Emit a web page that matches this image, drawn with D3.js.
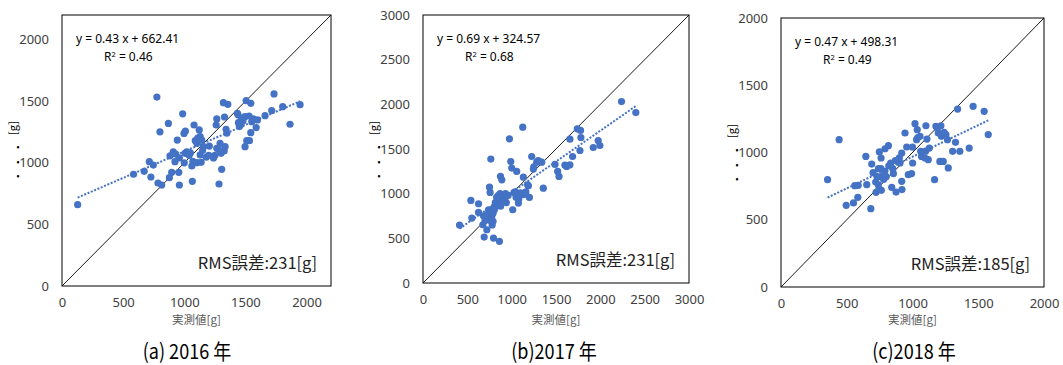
<!DOCTYPE html>
<html>
<head>
<meta charset="utf-8">
<script src="https://cdn.jsdelivr.net/npm/d3@7"></script>
<style>
  body { margin: 0; background: #fff; }
  svg { display: block; }
</style>
</head>
<body>
<div id="chart"></div>
<script>
// 2016 [実測値, 推定値]
const pts2016 = [
  [128,660],[776,1534],[585,907],[672,931],[714,1009],[747,982],[727,885],[785,836],[815,820],
  [801,1252],[870,1320],[883,1057],[897,923],[878,879],[910,1090],[924,1009],[955,923],[960,820],
  [943,1185],[987,1398],[998,1239],[1009,1258],[1006,1077],[1040,1061],[1062,974],[1070,1012],
  [1066,850],[1080,1307],[1103,1158],[1122,1267],[1130,1212],[1143,1185],[1130,1064],[1138,1004],
  [1103,1001],[1157,1131],[1179,1045],[1205,1136],[1239,1039],[1261,1307],[1266,1356],[1266,1118],
  [1284,828],[1293,1158],[1301,1077],[1306,947],[1320,1488],[1329,1372],[1342,1272],[1348,1240],
  [1356,1475],[1326,1096],[1334,1131],[1435,1402],[1443,1326],[1451,1294],[1470,1361],[1497,1375],
  [1506,1505],[1544,1483],[1497,1131],[1511,1180],[1533,1180],[1544,1245],[1552,1334],[1566,1356],
  [1588,1286],[1599,1348],[1661,1383],[1715,1424],[1734,1559],[1805,1456],[1865,1313],[1947,1472],
  [1020,1090],[1050,1080],[1090,1180],[1110,1200],[1150,1100],[1250,1060],[1280,1110],[1480,1340],
  [1460,1310],[1530,1380],[930,1070],[960,1040],[1000,1000],[1200,1060],[1440,1390]
];
const pts2017 = [
  [412,648],[551,727],[540,924],[626,887],[626,790],[682,753],[675,652],[690,514],[720,596],
  [739,820],[757,1014],[765,1387],[750,1073],[795,503],[862,466],[760,700],[775,740],[790,780],
  [805,820],[820,860],[815,900],[840,900],[860,880],[875,860],[780,650],[790,690],[760,800],
  [889,1155],[874,1193],[850,980],[870,1000],[900,950],[920,930],[940,900],[880,920],[830,960],
  [800,850],[700,700],[720,760],[930,1000],[960,980],[975,1614],[990,1360],[1001,1286],[1012,820],
  [1027,1014],[1057,1249],[1076,895],[1050,960],[1080,940],[1125,1744],[1132,1185],[1132,988],
  [1189,1088],[1200,958],[1226,1416],[1245,1275],[1282,1353],[1339,1353],[1300,1370],[1357,1062],
  [1489,1327],[1519,1249],[1534,1193],[1620,1305],[1657,1323],[1657,1610],[1687,1416],[1740,1726],
  [1777,1708],[1781,1629],[1770,1483],[1920,1517],[1976,1595],[1995,1539],[2239,2031],[2400,1908],
  [1040,1020],[1100,1010],[1160,1020],[1250,1300],[1600,1320],[1180,1100],[1060,970]
];
const pts2018 = [
  [354,798],[442,1095],[496,607],[551,625],[561,753],[587,756],[584,667],[645,971],[652,761],
  [683,582],[690,914],[723,704],[741,880],[748,1004],[761,959],[763,719],[791,1028],[817,1051],
  [834,922],[842,741],[855,843],[875,706],[905,922],[918,996],[918,786],[920,724],[943,1145],
  [956,1041],[968,835],[993,843],[1001,922],[1019,1214],[1031,1095],[1036,1170],[1057,1120],
  [1062,1009],[1069,971],[1095,959],[1102,1199],[1120,947],[1128,1033],[1168,798],[1178,1195],
  [1196,1145],[1208,934],[1216,1199],[1234,934],[1254,1133],[1266,1095],[1272,885],[1305,1009],
  [1327,1076],[1343,1323],[1360,1009],[1431,1033],[1461,1343],[1545,1306],[1576,1133],
  [720,780],[740,760],[760,820],[780,800],[700,850],[790,860],[800,820],[820,900],[850,880],
  [870,940],[890,940],[900,960],[760,880],[730,820],[745,730],[1110,1100],[1190,1180],[1220,1120],
  [1240,1150],[1040,1110],[1100,1010],[1000,1040]
];

// 近似直線 (傾き, 切片) と R²
const slopes = [0.43, 0.69, 0.47];
const intercepts = [662.41, 324.57, 498.31];
const r2s = ['0.46', '0.68', '0.49'];
const rmsErr = [231, 231, 185];

const axisMax = [2200, 3000, 2000];
const ticks2016 = [0, 500, 1000, 1500, 2000];
const ticks2017 = [0, 500, 1000, 1500, 2000, 2500, 3000];
const ticks2018 = [0, 500, 1000, 1500, 2000];
const captions = ['(a) 2016 年', '(b)2017 年', '(c)2018 年'];

// 各パネルの配置
const panels = [
  { left: 62,  top: 15, w: 269, h: 271, pts: pts2016, ticks: ticks2016, cap: 187 },
  { left: 423, top: 15, w: 266, h: 268, pts: pts2017, ticks: ticks2017, cap: 554 },
  { left: 781, top: 18, w: 263, h: 269, pts: pts2018, ticks: ticks2018, cap: 914 }
];

const font = '"Noto Sans CJK JP", "Noto Sans", sans-serif';
const latin = '"Noto Sans", "Open Sans", sans-serif';
const blue = '#4472C4';

const svg = d3.select('#chart')
  .append('svg')
  .attr('width', 1063)
  .attr('height', 365);

panels.forEach((p, i) => {
  const x = d3.scaleLinear().domain([0, axisMax[i]]).range([p.left, p.left + p.w]);
  const y = d3.scaleLinear().domain([0, axisMax[i]]).range([p.top + p.h, p.top]);
  const g = svg.append('g');

  // 枠
  g.append('rect')
    .attr('x', p.left).attr('y', p.top)
    .attr('width', p.w).attr('height', p.h)
    .attr('fill', 'none')
    .attr('stroke', '#000')
    .attr('stroke-width', 1);

  // 軸ラベル (目盛り線なし)
  const xAxis = d3.axisBottom(x).tickValues(p.ticks).tickFormat(d3.format('d')).tickSize(0).tickPadding(12);
  const yAxis = d3.axisLeft(y).tickValues(p.ticks).tickFormat(d3.format('d')).tickSize(0).tickPadding(13);
  g.append('g')
    .attr('transform', `translate(0,${p.top + p.h})`)
    .call(xAxis)
    .call(a => a.select('.domain').remove())
    .selectAll('text')
    .attr('font-family', latin).attr('font-size', 13).attr('fill', '#404040');
  g.append('g')
    .attr('transform', `translate(${p.left},0)`)
    .call(yAxis)
    .call(a => a.select('.domain').remove())
    .selectAll('text')
    .attr('font-family', latin).attr('font-size', 13).attr('fill', '#404040');

  // y=x 線
  g.append('line')
    .attr('x1', x(0)).attr('y1', y(0))
    .attr('x2', x(axisMax[i])).attr('y2', y(axisMax[i]))
    .attr('stroke', '#000')
    .attr('stroke-width', 0.9);

  // 点
  g.append('g')
    .selectAll('circle')
    .data(p.pts)
    .enter()
    .append('circle')
    .attr('cx', d => x(d[0]))
    .attr('cy', d => y(d[1]))
    .attr('r', 3.6)
    .attr('fill', blue);

  // 近似直線
  const xs = d3.extent(p.pts, d => d[0]);
  g.append('line')
    .attr('x1', x(xs[0])).attr('y1', y(slopes[i] * xs[0] + intercepts[i]))
    .attr('x2', x(xs[1])).attr('y2', y(slopes[i] * xs[1] + intercepts[i]))
    .attr('stroke', blue)
    .attr('stroke-width', 2)
    .attr('stroke-dasharray', '2,1.6');

  // 式と R²
  g.append('text')
    .attr('x', p.left + 14).attr('y', p.top + 28)
    .attr('font-family', latin).attr('font-size', 12).attr('fill', '#000')
    .text(`y = ${slopes[i].toFixed(2)} x + ${intercepts[i].toFixed(2)}`);
  const r = g.append('text')
    .attr('x', p.left + 42).attr('y', p.top + 46)
    .attr('font-family', latin).attr('font-size', 12).attr('fill', '#000');
  r.append('tspan').text('R');
  r.append('tspan').attr('dy', -4).attr('font-size', 7.5).text('2');
  r.append('tspan').attr('dy', 4).text(` = ${r2s[i]}`);

  // RMS誤差
  g.append('text')
    .attr('x', p.left + p.w - 14).attr('y', p.top + p.h - 17)
    .attr('text-anchor', 'end')
    .attr('font-family', font).attr('font-size', 16.5).attr('fill', '#222')
    .text(`RMS誤差:${rmsErr[i]}[g]`);

  // y 軸タイトル (崩れた縦書き)
  const yl = p.left - 49;
  g.append('text')
    .attr('transform', `translate(${yl + 4},${p.top + 113}) rotate(-90)`)
    .attr('text-anchor', 'middle')
    .attr('font-family', font).attr('font-size', 11).attr('fill', '#000')
    .text('[g]');
  [132, 147, 161].forEach(dy => {
    g.append('text')
      .attr('x', yl + 5).attr('y', p.top + dy + 3)
      .attr('text-anchor', 'middle')
      .attr('font-family', font).attr('font-size', 9).attr('fill', '#000')
      .text('•');
  });

  // x 軸タイトル
  g.append('text')
    .attr('x', p.left + p.w / 2).attr('y', 324)
    .attr('text-anchor', 'middle')
    .attr('font-family', font).attr('font-size', 11.5).attr('fill', '#595959')
    .text('実測値[g]');

  // キャプション
  g.append('text')
    .attr('transform', `translate(${p.cap},359) scale(0.86,1)`)
    .attr('text-anchor', 'middle')
    .attr('font-family', font).attr('font-size', 21).attr('fill', '#000')
    .text(captions[i]);
});
</script>
</body>
</html>
